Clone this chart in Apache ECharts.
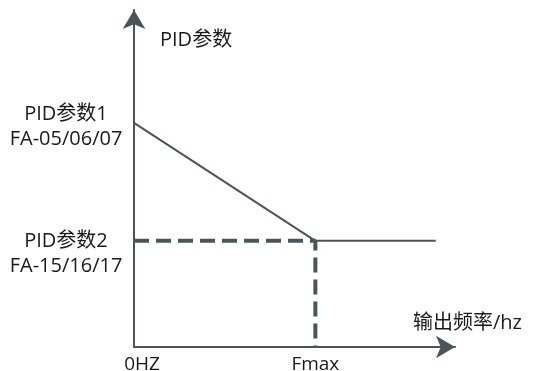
<!DOCTYPE html>
<html>
<head>
<meta charset="utf-8">
<script src="https://cdn.jsdelivr.net/npm/echarts@6/dist/echarts.min.js"></script>
<style>
  html, body { margin: 0; padding: 0; background: #fff; }
  #chart { width: 538px; height: 371px; }
</style>
</head>
<body>
<div id="chart"></div>
<script>
// curve points: PID parameter vs output frequency
const freqValues = [0, 56.5, 94]
const pidValues = [66.5, 31.5, 31.5]
const fmax = 56.5
const pid1 = 66.5
const pid2 = 31.5
const xTickValues = [0, fmax]
const xTickLabels = ['0HZ', 'Fmax']
const yLabels = ['PID参数1\nFA-05/06/07', 'PID参数2\nFA-15/16/17']

const lineColor = '#4b5558'
const textColor = '#1a1a1a'
const textFont = '"Open Sans", "Noto Sans CJK SC", sans-serif'

const chart = echarts.init(document.getElementById('chart'))
chart.setOption({
  animation: false,
  grid: { left: 134, right: 83, top: 10, bottom: 24, outerBoundsMode: 'none' },
  xAxis: {
    type: 'value',
    min: 0,
    max: 100,
    name: '输出频率/hz',
    nameLocation: 'end',
    nameGap: -42,
    nameTextStyle: {
      color: textColor,
      fontSize: 20,
      fontFamily: textFont,
      align: 'left',
      verticalAlign: 'bottom',
      padding: [0, 0, 14, 0]
    },
    axisLine: {
      show: true,
      symbol: ['none', 'arrow'],
      symbolSize: [17, 19],
      lineStyle: { color: lineColor, width: 2 }
    },
    axisTick: { show: false },
    splitLine: { show: false },
    axisLabel: {
      customValues: xTickValues,
      formatter: (v) => {
        const i = xTickValues.indexOf(v)
        return i === 0 ? '{first|' + xTickLabels[i] + '}' : xTickLabels[i]
      },
      rich: {
        first: { padding: [0, 0, 0, 16] }
      },
      color: textColor,
      fontSize: 19,
      fontFamily: textFont,
      margin: 8
    }
  },
  yAxis: {
    type: 'value',
    min: 0,
    max: 100,
    name: 'PID参数',
    nameLocation: 'end',
    nameGap: -30,
    nameTextStyle: {
      color: textColor,
      fontSize: 20,
      fontFamily: textFont,
      align: 'left',
      verticalAlign: 'middle',
      padding: [0, 0, 0, 26]
    },
    axisLine: {
      show: true,
      symbol: ['none', 'arrow'],
      symbolSize: [17, 19],
      lineStyle: { color: lineColor, width: 2 }
    },
    axisTick: { show: false },
    splitLine: { show: false },
    axisLabel: { show: false }
  },
  series: [
    {
      type: 'line',
      data: freqValues.map((x, i) => [x, pidValues[i]]),
      symbol: 'none',
      lineStyle: { color: lineColor, width: 2 },
      z: 2
    },
    {
      type: 'line',
      data: [[0, pid2], [fmax, pid2], [fmax, 0]],
      symbol: 'none',
      lineStyle: { color: lineColor, width: 4, type: [15, 7] },
      z: 3
    }
  ]
})

// left-side labels placed next to the axis at each PID level
const p1 = chart.convertToPixel({ gridIndex: 0 }, [0, pid1])
const p2 = chart.convertToPixel({ gridIndex: 0 }, [0, pid2])
const labelStyle = {
  fill: textColor,
  font: '20px ' + textFont,
  align: 'center',
  verticalAlign: 'top',
  lineHeight: 25
}
chart.setOption({
  graphic: [
    {
      type: 'text',
      x: p1[0] - 68,
      y: p1[1] - 21,
      style: Object.assign({ text: yLabels[0] }, labelStyle)
    },
    {
      type: 'text',
      x: p2[0] - 68,
      y: p2[1] - 12,
      style: Object.assign({ text: yLabels[1] }, labelStyle)
    }
  ]
})
</script>
</body>
</html>
